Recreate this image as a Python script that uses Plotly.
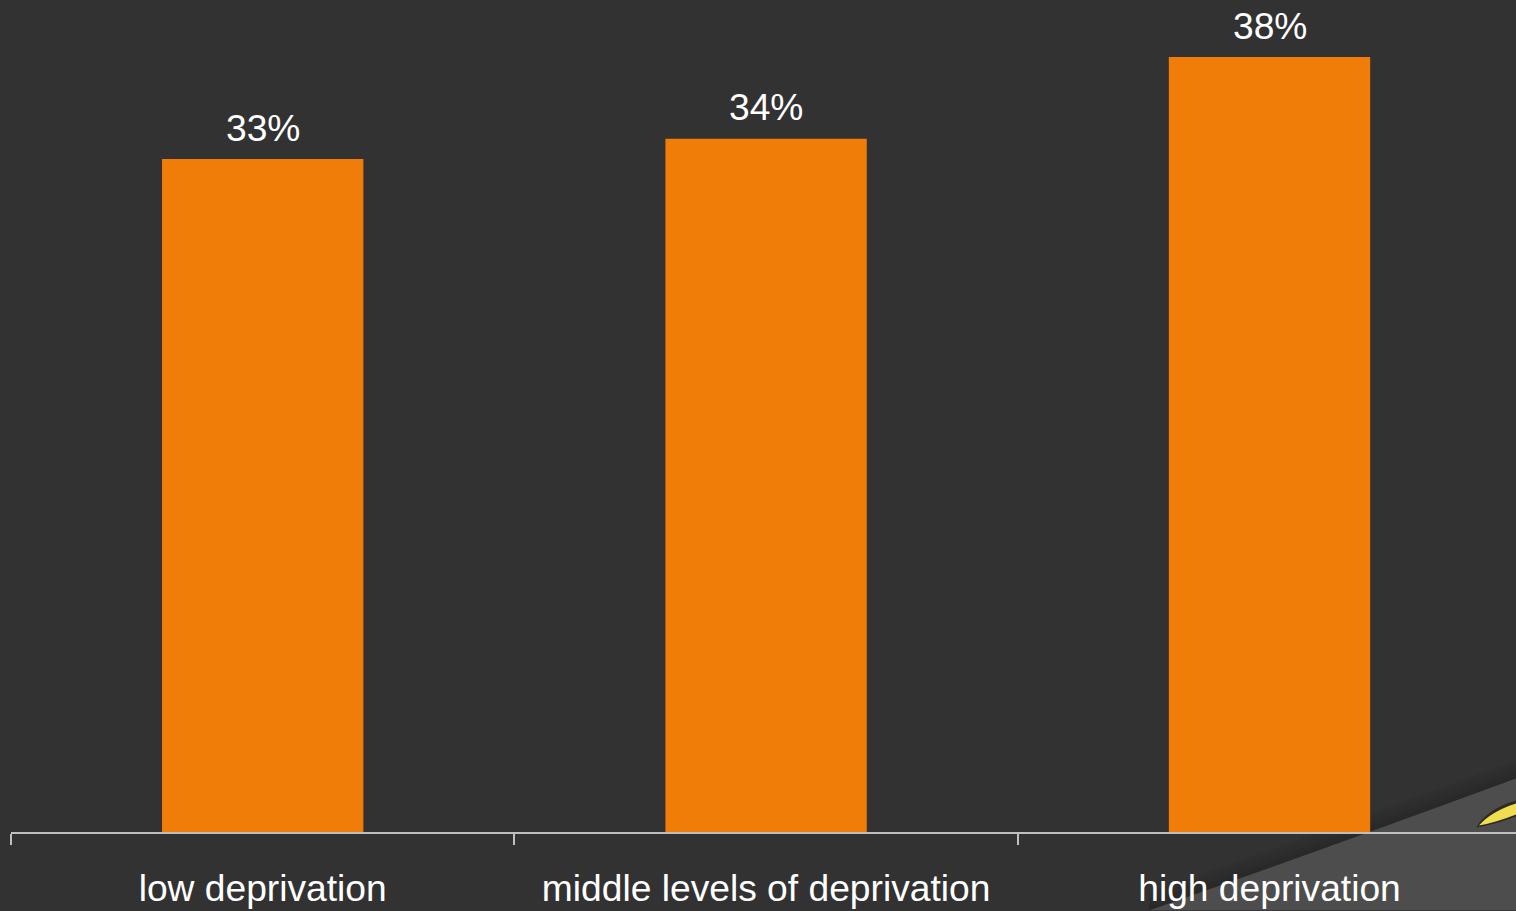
import plotly.graph_objects as go

categories = ["low deprivation", "middle levels of deprivation", "high deprivation"]
shares = [33, 34, 38]

WIDTH, HEIGHT = 1516, 911
LEFT, BOTTOM = 11, 78.5
BAND = 503.4
FONT = "Liberation Sans"
TEXT_SIZE = 37.2


def px(x):
    return (x - LEFT) / (WIDTH - LEFT)


def py(y):
    return (HEIGHT - BOTTOM - y) / (HEIGHT - BOTTOM)


def path(points):
    """Build an SVG path in paper coordinates; each item is (command, x, y, ...)."""
    parts = []
    for cmd, *coords in points:
        pairs = [f"{px(coords[i]):.5f},{py(coords[i + 1]):.5f}" for i in range(0, len(coords), 2)]
        parts.append(cmd + " " + " ".join(pairs))
    return " ".join(parts) + " Z"


# Soft shadow along the edge of the lighter corner panel
shadow = [
    dict(type="path", xref="paper", yref="paper", layer="below", line_width=0,
         fillcolor=f"rgba(34,34,34,{a})",
         path=path([("M", 1149, 911 - off), ("Q", 1290, 862 - off, 1516, 779 - off),
                    ("L", 1516, 911), ("L", 1149, 911)]))
    for off, a in [(18, 0.12), (13, 0.15), (8, 0.2), (4, 0.25)]
]

panel = dict(type="path", xref="paper", yref="paper", layer="below", line_width=0,
             fillcolor="#4d4d4d",
             path=path([("M", 1149, 911), ("Q", 1290, 862, 1516, 779),
                        ("L", 1516, 911), ("L", 1149, 911)]))

# Tip of the yellow emblem at the right edge: dark rim, pale tip, yellow body
emblem = [
    dict(type="path", xref="paper", yref="paper", layer="below", line_width=0,
         fillcolor="#2e2a20",
         path=path([("M", 1476, 828), ("Q", 1488, 809, 1516, 801),
                    ("L", 1516, 817), ("Q", 1495, 825, 1476, 828)])),
    dict(type="path", xref="paper", yref="paper", layer="below", line_width=0,
         fillcolor="#f0dd50",
         path=path([("M", 1479, 826), ("Q", 1491, 812, 1516, 804),
                    ("L", 1516, 815), ("Q", 1496, 823, 1479, 826)])),
]

fig = go.Figure(
    go.Bar(
        x=categories,
        y=shares,
        width=0.4,
        marker=dict(color="#f07d08", line_width=0),
        hoverinfo="skip",
    )
)

# Value labels sit a fixed distance above each bar
for cat, value in zip(categories, shares):
    fig.add_annotation(
        x=cat, y=value, text=f"{value}%", showarrow=False,
        yanchor="bottom", yshift=8.5,
        font=dict(family=FONT, size=TEXT_SIZE, color="#ffffff"),
    )

fig.update_layout(
    width=WIDTH,
    height=HEIGHT,
    margin=dict(l=LEFT, r=0, t=0, b=BOTTOM, pad=0),
    paper_bgcolor="#323232",
    plot_bgcolor="rgba(0,0,0,0)",
    showlegend=False,
    shapes=shadow + [panel] + emblem,
)
fig.update_xaxes(
    type="category",
    range=[-0.5, (WIDTH - LEFT) / BAND - 0.5],
    tickson="boundaries",
    ticks="outside",
    ticklen=11,
    tickwidth=1.5,
    tickcolor="#bfbfbf",
    showline=True,
    linecolor="#bfbfbf",
    linewidth=2,
    showgrid=False,
    zeroline=False,
    ticklabelstandoff=22,
    tickfont=dict(family=FONT, size=TEXT_SIZE, color="#ffffff"),
)
fig.update_yaxes(range=[0, 40.8], visible=False, showgrid=False, zeroline=False)

fig.write_html("out.html", config=dict(displayModeBar=False))
